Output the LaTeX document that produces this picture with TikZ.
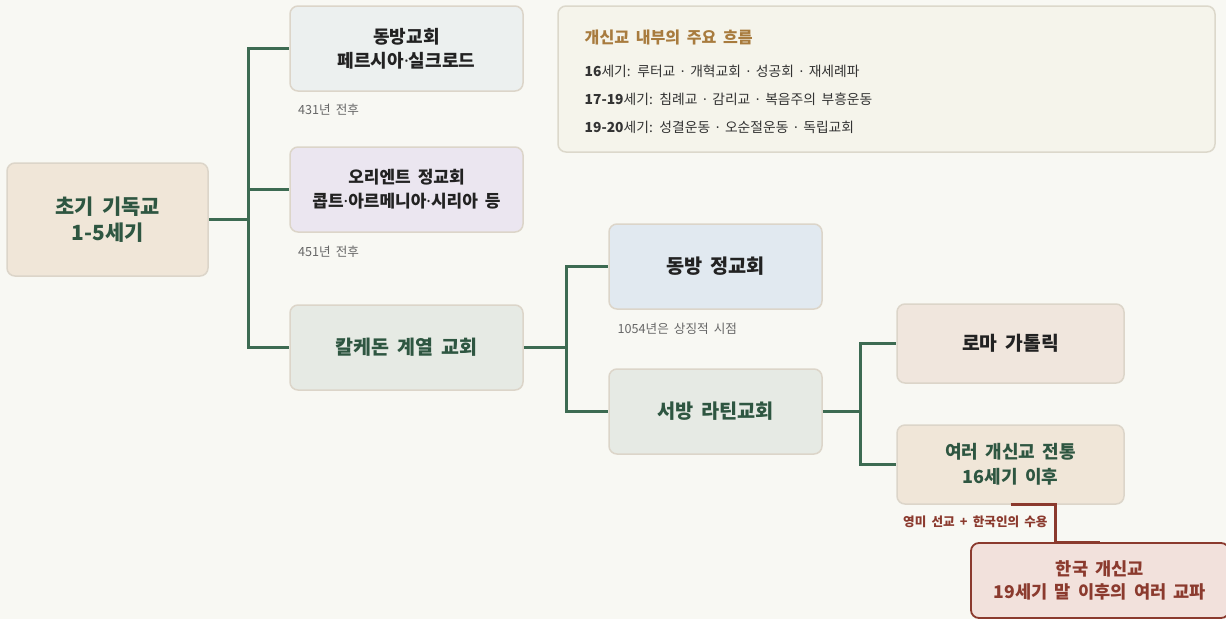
\documentclass[tikz,border=0pt]{standalone}
\usepackage{fontspec}
\setmainfont[WordSpace=1.8]{Noto Sans CJK KR}
\newfontfamily\dotfont{Noto Sans}
\newcommand\md{{\dotfont ·}}
\usetikzlibrary{calc}
\definecolor{bg}{HTML}{F8F8F3}
\definecolor{boxline}{HTML}{DCD5C9}
\definecolor{conncol}{HTML}{3D6B52}
\definecolor{dgreen}{HTML}{2E5641}
\definecolor{dtext}{HTML}{222222}
\definecolor{rootfill}{HTML}{F0E6D8}
\definecolor{afill}{HTML}{ECF0EF}
\definecolor{bfill}{HTML}{EBE6F0}
\definecolor{cfill}{HTML}{E6EAE4}
\definecolor{dfill}{HTML}{E1E9F0}
\definecolor{ffill}{HTML}{F0E6DD}
\definecolor{gfill}{HTML}{F0E6D8}
\definecolor{hfill}{HTML}{F2E1DC}
\definecolor{dred}{HTML}{8B3A2E}
\definecolor{infofill}{HTML}{F5F4EB}
\definecolor{infoline}{HTML}{DCD8CB}
\definecolor{gold}{HTML}{A87B3E}
\definecolor{labelgrey}{HTML}{666666}
\definecolor{infotext}{HTML}{333333}
\begin{document}
\begin{tikzpicture}[x=1pt,y=-1pt,
  box/.style={draw=boxline, line width=1.5pt, rounded corners=8pt, inner sep=0pt, align=center},
  conn/.style={draw=conncol, line width=3pt},
  redconn/.style={draw=dred, line width=3pt},
  smalllabel/.style={anchor=west, inner sep=0pt, text=labelgrey, font=\fontsize{12.6}{14}\selectfont},
  infoitem/.style={anchor=west, inner sep=0pt, text=infotext, font=\fontsize{13.8}{16}\selectfont}]
\useasboundingbox (0,0) rectangle (1226,619);
\fill[bg] (0,0) rectangle (1226,619);

% info box
\node[draw=infoline, line width=1.5pt, rounded corners=8pt, fill=infofill, minimum width=657pt, minimum height=146pt, inner sep=0pt] (info) at (886.5,79) {};
\node[anchor=west, inner sep=0pt, text=gold, font=\bfseries\fontsize{16.1}{18}\selectfont] (infotitle) at (584.5,37.7) {개신교 내부의 주요 흐름};
\node[infoitem] (info1) at (584.5,71) {{\bfseries 16}세기: 루터교 \md{} 개혁교회 \md{} 성공회 \md{} 재세례파};
\node[infoitem] (info2) at (584.5,99.3) {{\bfseries 17-19}세기: 침례교 \md{} 감리교 \md{} 복음주의 부흥운동};
\node[infoitem] (info3) at (584.5,127.3) {{\bfseries 19-20}세기: 성결운동 \md{} 오순절운동 \md{} 독립교회};

% nodes
\node[box, fill=rootfill, text=dgreen, minimum width=201pt, minimum height=113pt, font=\bfseries\fontsize{20.9}{26.5}\selectfont] (root) at (107.5,219.5) {초기 기독교\\1-5세기};
\node[box, fill=afill, text=dtext, minimum width=233pt, minimum height=85pt, font=\bfseries\fontsize{18}{24}\selectfont] (A) at (406.5,48.5) {동방교회\\페르시아\md 실크로드};
\node[box, fill=bfill, text=dtext, minimum width=233pt, minimum height=85pt, font=\bfseries\fontsize{17}{24}\selectfont] (B) at (406.5,189.5) {오리엔트 정교회\\콥트\md 아르메니아\md 시리아 등};
\node[box, fill=cfill, text=dgreen, minimum width=233pt, minimum height=85pt, font=\bfseries\fontsize{19.5}{22}\selectfont] (C) at (406.5,347.5) {칼케돈 계열 교회};
\node[box, fill=dfill, text=dtext, minimum width=213pt, minimum height=85pt, font=\bfseries\fontsize{19.7}{22}\selectfont] (D) at (715.5,266.5) {동방 정교회};
\node[box, fill=cfill, text=dgreen, minimum width=213pt, minimum height=85pt, font=\bfseries\fontsize{19.7}{22}\selectfont] (E) at (715.5,411.5) {서방 라틴교회};
\node[box, fill=ffill, text=dtext, minimum width=227pt, minimum height=79pt, font=\bfseries\fontsize{19.3}{22}\selectfont] (F) at (1010.5,343.5) {로마 가톨릭};
\node[box, fill=gfill, text=dgreen, minimum width=227pt, minimum height=79pt, font=\bfseries\fontsize{18}{25}\selectfont] (G) at (1010.5,464.5) {여러 개신교 전통\\16세기 이후};
\node[box, draw=dred, line width=1.8pt, fill=hfill, text=dred, minimum width=258pt, minimum height=75pt, font=\bfseries\fontsize{17.6}{23}\selectfont] (H) at (1100,580.5) {한국 개신교\\19세기 말 이후의 여러 교파};

% labels
\node[smalllabel] (l431) at (298,110) {431년 전후};
\node[smalllabel] (l451) at (298,251.7) {451년 전후};
\node[smalllabel] (l1054) at (617.5,329) {1054년은 상징적 시점};
\node[anchor=west, inner sep=0pt, text=dred, font=\bfseries\fontsize{12.6}{14}\selectfont] (lmission) at (903,522) {영미 선교 + 한국인의 수용};

% connectors
\draw[conn] (root.east) -- ++(40,0) coordinate (j1);
\draw[conn] (j1) |- (A.west);
\draw[conn] (j1) |- (B.west);
\draw[conn] (j1) |- (C.west);
\draw[conn] (C.east) -- ++(43,0) coordinate (j2);
\draw[conn] (j2) |- (D.west);
\draw[conn] (j2) |- (E.west);
\draw[conn] (E.east) -- ++(38,0) coordinate (j3);
\draw[conn] (j3) |- (F.west);
\draw[conn] (j3) |- (G.west);
\draw[redconn] (G.south) -| ($(G.south)!0.5!(H.north)$) |- (H.north);
\end{tikzpicture}
\end{document}
